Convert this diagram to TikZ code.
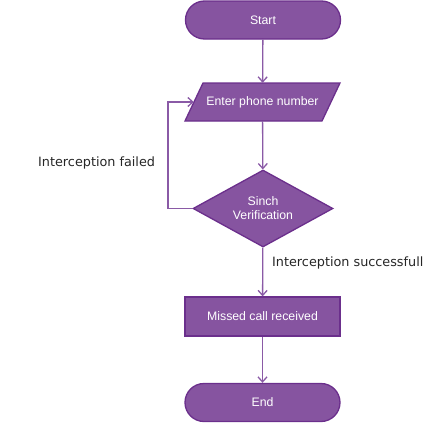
\documentclass[tikz,border=0pt]{standalone}
\usepackage{fontspec}
\setmainfont{Liberation Sans}
\newfontfamily\labelfont{DejaVu Sans}
\usetikzlibrary{shapes.geometric,shapes.misc,arrows.meta,calc}
\definecolor{boxfill}{HTML}{8654A0}
\definecolor{boxline}{HTML}{6B2F8C}
\definecolor{conn}{HTML}{8A5AA6}
\tikzset{
  x=1pt,y=-1pt,
  shapeline/.style={fill=boxfill,draw=boxline,line width=1.3pt,line join=miter},
  base/.style={shapeline,text=white,font=\fontsize{12.3}{14}\selectfont,align=center,inner sep=0pt},
  term/.style={base,rounded rectangle,minimum width=155pt,minimum height=38pt},
  io/.style={rectangle,text=white,font=\fontsize{12.3}{14}\selectfont,align=center,inner sep=0pt,minimum width=137pt,minimum height=38pt},
  proc/.style={base,rectangle,minimum width=155pt,minimum height=39pt},
  dec/.style={base,diamond,minimum width=140pt,minimum height=77pt,aspect=1.8},
  conn/.style={draw=conn,line width=1.3pt,-{Straight Barb[length=5pt,width=9pt]}},
  lbl/.style={font=\labelfont\fontsize{12.8}{15}\selectfont,text=black!85,inner sep=0pt}
}
\begin{document}
\begin{tikzpicture}
\useasboundingbox (0,0) rectangle (429,423);
\node[term] (start) at (263,20) {Start};
\draw[shapeline] (185,121) -- (203,83) -- (340,83) -- (322,121) -- cycle;
\node[io] (enter) at (262.5,102) {Enter phone number};
\node[dec] (sinch) at (263,208.5) {Sinch\\Verification};
\node[proc] (missed) at (262.5,316.5) {Missed call received};
\node[term] (end) at (262.5,402.5) {End};
\coordinate (lb) at (168,208.5);
\coordinate (lt) at (168,102);
\draw[conn] (start) -- (enter);
\draw[conn] (enter) -- (sinch);
\draw[conn] (sinch) -- (missed);
\draw[conn] (missed) -- (end);
\draw[conn] (sinch.west) -- (lb) -- (lt) -- (enter.west);
\node[lbl,anchor=west] (failed) at (38,163) {Interception failed};
\node[lbl,anchor=west] (succ) at (272,263) {Interception successfull};
\end{tikzpicture}
\end{document}
